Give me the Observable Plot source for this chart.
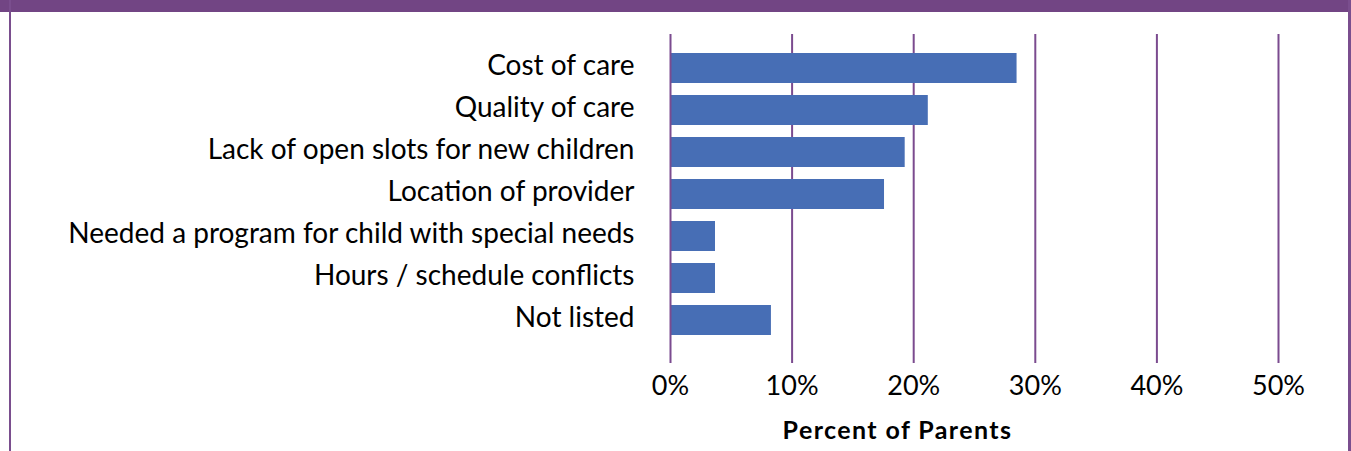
<!DOCTYPE html>
<html>
<head>
<meta charset="utf-8">
<script src="https://cdn.jsdelivr.net/npm/d3@7"></script>
<script src="https://cdn.jsdelivr.net/npm/@observablehq/plot@0.6"></script>
<style>
  html, body { margin: 0; padding: 0; background: #fff; }
  #wrap { position: relative; width: 1351px; height: 451px; overflow: hidden; }
  #wrap svg { position: absolute; left: 0; top: 0; }
  .bar-top { position: absolute; left: 0; top: 0; width: 1351px; height: 12px; background: #724584; }
  .bar-left { position: absolute; left: 9px; top: 0; width: 2px; height: 451px; background: #7a4e8e; }
  .bar-right { position: absolute; left: 1348px; top: 0; width: 3px; height: 451px; background: #7a4e8e; }
</style>
</head>
<body>
<div id="wrap"></div>
<script>
const categories = [
  "Cost of care",
  "Quality of care",
  "Lack of open slots for new children",
  "Location of provider",
  "Needed a program for child with special needs",
  "Hours / schedule conflicts",
  "Not listed"
];
const values = [28.5, 21.2, 19.3, 17.6, 3.7, 3.7, 8.3];
const xTicks = [0, 10, 20, 30, 40, 50];
const xTitle = "Percent of Parents";

const data = categories.map((c, i) => ({category: c, value: values[i]}));

const FONT = "Lato, 'Noto Sans', sans-serif";
const purple = "#7b4b8f";
const blue = "#476eb5";

const chart = Plot.plot({
  width: 1351,
  height: 451,
  marginLeft: 670,
  marginRight: 73,
  marginTop: 34,
  marginBottom: 88,
  style: {fontFamily: FONT, color: "#000", background: "transparent"},
  x: {domain: [0, 50], ticks: xTicks},
  y: {domain: categories, range: [40.7, 346.7], paddingInner: 0.2857, paddingOuter: 0.2857},
  marks: [
    Plot.ruleX(xTicks.filter(d => d !== 0), {stroke: purple, strokeWidth: 2}),
    Plot.barX(data, {y: "category", x: "value", fill: blue}),
    Plot.ruleX([0], {stroke: purple, strokeWidth: 2}),
    Plot.axisX({ticks: xTicks, tickSize: 0, tickPadding: 12, tickFormat: d => d + "%", fontSize: 27, label: null}),
    Plot.axisY({tickSize: 0, tickPadding: 36, fontSize: 28, dy: -2, label: null}),
    Plot.text([xTitle], {frameAnchor: "bottom", lineAnchor: "middle", dx: -77, dy: 67, fontSize: 25, fontWeight: "bold", fill: "#000"})
  ]
});

const wrap = document.getElementById("wrap");
wrap.appendChild(chart);
d3.select(chart).selectAll("text").filter(function() { return this.textContent === xTitle; })
  .style("letter-spacing", "1.4px");
["bar-top", "bar-left", "bar-right"].forEach(cls => {
  const d = document.createElement("div");
  d.className = cls;
  wrap.appendChild(d);
});
</script>
</body>
</html>
